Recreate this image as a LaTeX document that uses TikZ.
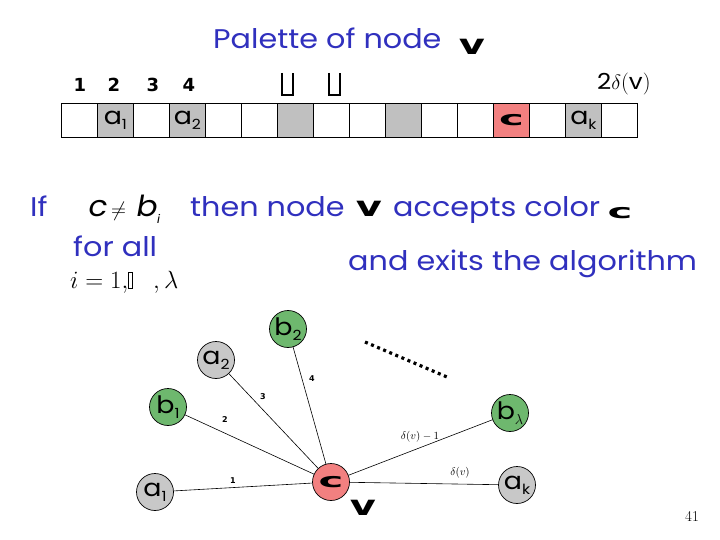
\documentclass[tikz,border=0pt]{standalone}
\usepackage{fontspec}
\newfontfamily\comic[FakeStretch=1.12]{Poppins}
\newfontfamily\comicit[FakeStretch=1.08,FakeSlant=0.18]{Poppins}
\newfontfamily\tah{DejaVu Sans}
\definecolor{txtblue}{RGB}{48,48,190}
\definecolor{palgray}{RGB}{192,192,192}
\definecolor{nodegray}{RGB}{200,200,200}
\definecolor{palred}{RGB}{242,128,128}
\definecolor{nodegreen}{RGB}{110,184,110}
\newcommand{\sublab}[2]{{\comic\fontsize{24}{24}\selectfont #1}\raisebox{-5pt}{\comic\fontsize{14}{14}\selectfont #2}}
\newcommand{\bigv}{\scalebox{2}[1.4]{\tah\bfseries\fontsize{20}{20}\selectfont v}}
\newcommand{\bigc}{\scalebox{1.9}[0.9]{\tah\bfseries\fontsize{22}{22}\selectfont c}}
\begin{document}
\begin{tikzpicture}[x=1pt,y=-1pt,
  cell/.style={draw, line width=0.8pt, minimum width=36pt, minimum height=34pt, inner sep=0pt, anchor=north west},
  vert/.style={circle, draw, line width=0.7pt, minimum size=37pt, inner sep=0pt},
  blue/.style={text=txtblue, font=\comic\fontsize{27}{27}\selectfont, inner sep=0pt, anchor=base west},
  num/.style={font=\tah\bfseries\fontsize{18}{18}\selectfont, inner sep=0pt},
  elab/.style={font=\tah\bfseries\fontsize{8}{8}\selectfont, inner sep=0pt},
  edge/.style={line width=0.6pt},
  cup/.style={line width=1.8pt, line cap=butt, line join=miter}]
\useasboundingbox (0,0) rectangle (720,540);
% title
\node[blue] (title) at (213,49) {Palette of node};
\node[inner sep=0pt] (tv) at (472,47) {\bigv};
% palette cells
\foreach \i/\f in {1/white,2/palgray,3/white,4/palgray,5/white,6/white,7/palgray,8/white,9/white,10/palgray,11/white,12/white,13/palred,14/white,15/palgray,16/white}
  \node[cell, fill=\f] (c\i) at ({61+36*(\i-1)},103) {};
\node at (c2) {\sublab{a}{1}};
\node at (c4) {\sublab{a}{2}};
\node at (c13) {\bigc};
\node at (c15) {\sublab{a}{k}};
\node[num] (n1) at (80,85) {1};
\node[num] (n2) at (114,85) {2};
\node[num] (n3) at (153,85) {3};
\node[num] (n4) at (189,85) {4};
\draw[cup] (282,73) -- (282,95) -- (293,95) -- (293,73);
\draw[cup] (329,73) -- (329,95) -- (340,95) -- (340,73);
\node[inner sep=0pt, anchor=base west] (twod) at (597,90) {\fontsize{22}{22}\selectfont{\comic 2}$\delta$({\comic v})};
% condition text
\node[blue] (if) at (30,217) {If};
\node[inner sep=0pt, anchor=base west] (cond) at (87,217) {\comicit\fontsize{29}{29}\selectfont c\hspace{5pt}{\fontsize{22}{22}\selectfont$\neq$}\hspace{9pt}b\raisebox{-6pt}{\fontsize{12}{12}\selectfont i}};
\node[blue] (then) at (190,217) {then node};
\node[inner sep=0pt] (v2) at (369,209) {\bigv};
\node[blue] (acc) at (393,217) {accepts color};
\node[inner sep=0pt] (c2t) at (620,213) {\bigc};
\node[blue] (forall) at (73,256) {for all};
\node[blue] (exits) at (348,270) {and exits the algorithm};
\node[inner sep=0pt, anchor=base west] (range) at (70,288) {\fontsize{24}{24}\selectfont$i=1,\!\framebox(4,16){}\;\;\;,\lambda$};
% graph
\node[vert, fill=palred] (v) at (331,482) {\bigc};
\node[inner sep=0pt] (vl) at (363,508) {\bigv};
\node[vert, fill=nodegray] (a1) at (155,492) {\sublab{a}{1}};
\node[vert, fill=nodegreen] (b1) at (168,407) {\sublab{b}{1}};
\node[vert, fill=nodegray] (a2) at (216,360) {\sublab{a}{2}};
\node[vert, fill=nodegreen] (b2) at (288,329) {\sublab{b}{2}};
\node[vert, fill=nodegreen] (bl) at (510,413) {\sublab{b}{$\lambda$}};
\node[vert, fill=nodegray] (ak) at (517,485) {\sublab{a}{k}};
\draw[edge] (v) -- (a1);
\draw[edge] (v) -- (b1);
\draw[edge] (v) -- (a2);
\draw[edge] (v) -- (b2);
\draw[edge] (v) -- (bl);
\draw[edge] (v) -- (ak);
\node[elab] (l1) at (233,481) {1};
\node[elab] (l2) at (225,420) {2};
\node[elab] (l3) at (263,397) {3};
\node[elab] (l4) at (312,379) {4};
\node[inner sep=0pt, font=\fontsize{11}{11}\selectfont] (ld1) at (420,437) {$\delta(v)-1$};
\node[inner sep=0pt, font=\fontsize{11}{11}\selectfont] (ld) at (460,473) {$\delta(v)$};
% dots
\coordinate (d1) at (365,342);
\coordinate (d2) at (447,377);
\draw[line width=3.2pt, dash pattern=on 3pt off 3.6pt] (d1) -- (d2);
% page number
\node[inner sep=0pt, font=\fontsize{15}{15}\selectfont] (pg) at (692,516) {41};
\end{tikzpicture}
\end{document}
